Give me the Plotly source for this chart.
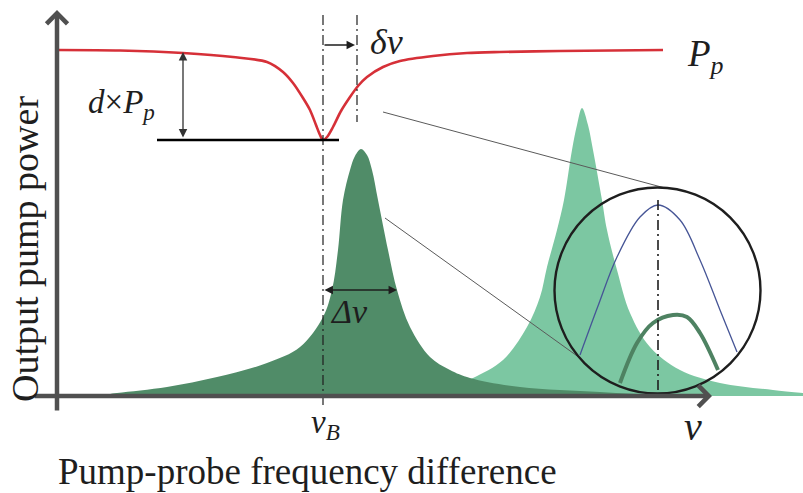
import plotly.graph_objects as go

# ---------------------------------------------------------------
# Data: detuning (x) and power (y) in arbitrary display units.
# Origin of both axes sits at the corner of the drawn axes.
# ---------------------------------------------------------------

# Transmitted pump power: flat level with a dip at the Brillouin frequency
pump_nu = [1, 63, 126, 176, 210, 226, 236, 246, 253, 259, 263, 266, 270, 276,
           284, 293, 301, 310, 326, 343, 376, 410, 443, 503, 606]
pump_pow = [346, 345.5, 343, 339, 334, 324, 313, 298, 286, 271, 261, 256, 259,
            269, 285, 299, 310, 319, 329, 335, 340, 343, 344, 345, 346]

# Brillouin gain spectrum centred at nu_B (dark green)
gain_nu = [3, 43, 60, 110, 160, 210, 243, 266, 275, 281, 286, 293, 298, 304,
           310, 315, 321, 331, 340, 353, 373, 393, 413, 463, 543, 603, 643]
gain_val = [0, 1, 3, 9, 19, 33, 49, 79, 106, 146, 196, 226, 240, 247,
            241, 226, 196, 146, 106, 69, 39, 26, 18, 9, 4, 1, 0]

# Shifted gain spectrum (light green)
shift_nu = [243, 343, 393, 416, 446, 470, 483, 490, 500, 507, 515, 520, 525,
            531, 536, 545, 550, 560, 573, 593, 623, 663, 716, 746]
shift_val = [0, 2, 8, 18, 36, 69, 99, 129, 166, 196, 246, 271, 288,
             271, 246, 196, 166, 126, 83, 49, 26, 13, 6, 3]

# Magnified peak tops shown inside the circle
probe_nu = [523, 541, 560, 583, 601, 623, 643, 663, 680]
probe_val = [41, 90, 139, 179, 191, 176, 136, 86, 44]
peak_nu = [563, 580, 596, 616, 630, 643, 661]
peak_val = [13, 53, 73, 81, 79, 63, 26]

# Key frequencies and levels
nu_B = 266          # Brillouin frequency
nu_shift = 300      # shifted dip position (nu_B + delta nu)
nu_halfwidth = 340  # edge of the linewidth marker
pump_level = 346
pump_min = 256
zoom_nu = 601       # peak marker inside the magnifier

DARK_GREEN = "rgb(80,140,104)"
LIGHT_GREEN = "rgb(124,199,162)"
RED = "rgb(214,48,56)"
AXIS = "rgb(80,80,80)"
INK = "rgb(30,30,30)"
SERIF = "Liberation Serif"

fig = go.Figure()

fig.add_trace(go.Scatter(x=shift_nu, y=shift_val, mode="lines", fill="tozeroy",
                         fillcolor=LIGHT_GREEN, line=dict(width=0, shape="spline"),
                         hoverinfo="skip"))
fig.add_trace(go.Scatter(x=gain_nu, y=gain_val, mode="lines", fill="tozeroy",
                         fillcolor=DARK_GREEN, line=dict(width=0, shape="spline"),
                         hoverinfo="skip"))
fig.add_trace(go.Scatter(x=pump_nu, y=pump_pow, mode="lines",
                         line=dict(color=RED, width=2.6, shape="spline", smoothing=0.8),
                         hoverinfo="skip"))
fig.add_trace(go.Scatter(x=probe_nu, y=probe_val, mode="lines",
                         line=dict(color="rgb(70,85,150)", width=1.3, shape="spline"),
                         hoverinfo="skip"))
fig.add_trace(go.Scatter(x=peak_nu, y=peak_val, mode="lines",
                         line=dict(color="rgb(78,130,98)", width=4, shape="spline"),
                         hoverinfo="skip"))

DASHDOT = "10px,4px,2px,4px"
shapes = [
    # dash-dot markers at nu_B, the shifted dip and the magnified peak
    dict(type="line", x0=nu_B, x1=nu_B, y0=381, y1=-10,
         line=dict(color=INK, width=1.2, dash=DASHDOT)),
    dict(type="line", x0=nu_shift, x1=nu_shift, y0=381, y1=274,
         line=dict(color=INK, width=1.2, dash=DASHDOT)),
    dict(type="line", x0=zoom_nu, x1=zoom_nu, y0=196, y1=0,
         line=dict(color=INK, width=1.6, dash=DASHDOT)),
    # dip depth reference level
    dict(type="line", x0=100, x1=282, y0=pump_min, y1=pump_min,
         line=dict(color="black", width=2.5)),
    # magnifier guide lines
    dict(type="line", x0=326, y0=284, x1=608, y1=208,
         line=dict(color="rgb(90,90,90)", width=1)),
    dict(type="line", x0=328, y0=178, x1=523, y1=38,
         line=dict(color="rgb(90,90,90)", width=1)),
    # magnifier circle
    dict(type="circle", x0=497.5, x1=703.5, y0=2.5, y1=208.5,
         line=dict(color=INK, width=2.4)),
]

def arrow(x, y, ax, ay, width, head, size, color, both=False):
    a = dict(x=x, y=y, ax=ax, ay=ay, xref="x", yref="y", axref="x", ayref="y",
             text="", showarrow=True, arrowhead=head, arrowsize=size,
             arrowwidth=width, arrowcolor=color, standoff=0, startstandoff=0)
    if both:
        a.update(arrowside="end+start", startarrowhead=head, startarrowsize=size)
    return a

annotations = [
    # axes
    arrow(0, 386, 0, -16, 4.5, 4, 0.9, AXIS),
    arrow(655, 0, -24, 0, 4.5, 4, 0.9, AXIS),
    # dip depth
    arrow(126, pump_level - 2, 126, pump_min + 1, 1.3, 2, 1.3, "rgb(50,50,50)", both=True),
    # delta nu shift
    arrow(nu_shift - 2, 351, nu_B, 351, 1.3, 2, 1.3, INK),
    # linewidth
    arrow(nu_halfwidth, 106, nu_B, 106, 1.3, 2, 1.3, INK, both=True),
]

def label(text, x, y, size, angle=0):
    return dict(x=x, y=y, xref="x", yref="y", text=text, showarrow=False,
                textangle=angle, xanchor="center", yanchor="middle",
                font=dict(family=SERIF, size=size, color=INK))

annotations += [
    label("<i>d</i>×<i>P</i><sub><i>p</i></sub>", 64, 292, 33),
    label("<i>δν</i>", 329, 354, 36),
    label("<i>P</i><sub><i>p</i></sub>", 648, 340, 37),
    label("<i>Δν</i>", 292, 85, 34),
    label("<i>ν</i><sub><i>B</i></sub>", 268, -28, 33),
    label("<i>ν</i>", 636, -30, 40),
    label("Pump-probe frequency difference", 250, -75, 37),
    label("Output pump power", -32, 147, 38, angle=-90),
]

fig.update_layout(
    width=803, height=493,
    margin=dict(l=0, r=0, t=0, b=0),
    paper_bgcolor="white", plot_bgcolor="white",
    showlegend=False,
    font=dict(family=SERIF),
    xaxis=dict(range=[-57, 746], visible=False, fixedrange=True),
    yaxis=dict(range=[-97, 396], visible=False, fixedrange=True),
    shapes=shapes,
    annotations=annotations,
)

fig.write_html("out.html")
